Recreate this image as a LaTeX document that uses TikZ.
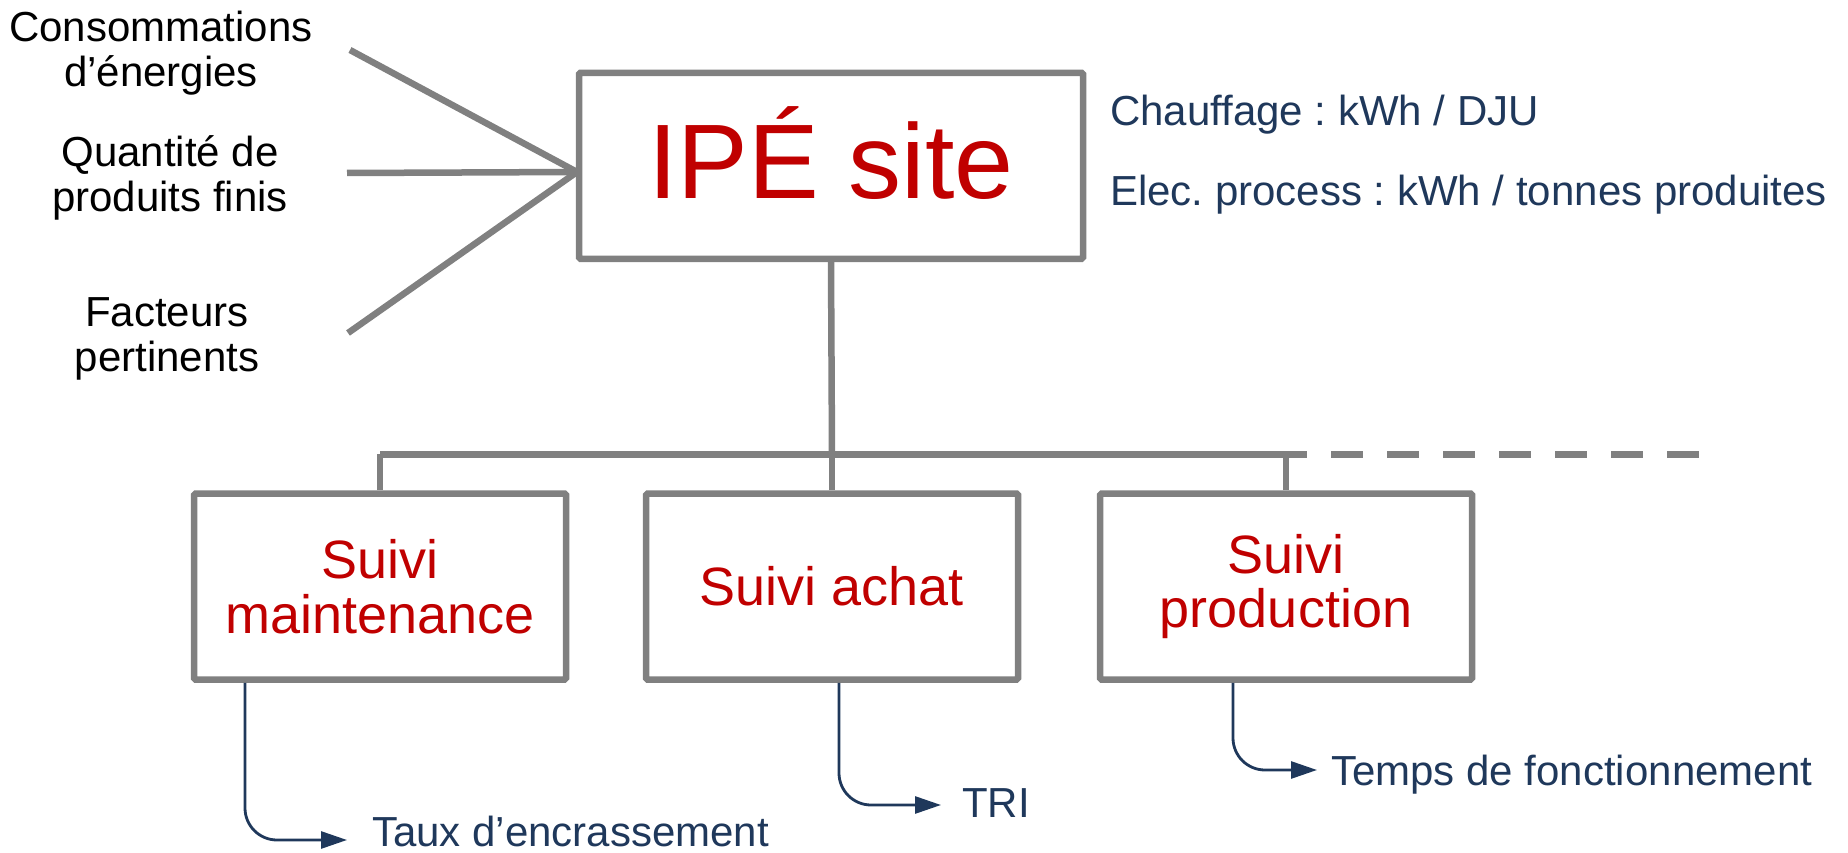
\documentclass[tikz,border=0pt]{standalone}
\usepackage{fontspec}
\setmainfont{Liberation Sans}
\usetikzlibrary{arrows.meta}
\definecolor{lgray}{HTML}{808080}
\definecolor{dred}{HTML}{C00000}
\definecolor{navy}{HTML}{1F385B}
\frenchspacing
\begin{document}
\begin{tikzpicture}[x=1pt,y=-1pt,
  gline/.style={draw=lgray,line width=6.5pt},
  bigbox/.style={draw=lgray,line width=6.5pt,rounded corners=1.5pt,minimum width=504pt,minimum height=186pt,inner sep=0pt,text=dred,font=\fontsize{106}{110}\selectfont,text height=78pt,text depth=12pt},
  subbox/.style={draw=lgray,line width=6.5pt,rounded corners=1.5pt,minimum width=372pt,minimum height=186pt,inner sep=0pt,text=dred,align=center,font=\fontsize{54}{54.7}\selectfont},
  intext/.style={align=center,inner sep=0pt,font=\fontsize{42}{45}\selectfont},
  navytext/.style={anchor=base west,inner sep=0pt,text=navy,font=\fontsize{42}{45}\selectfont},
  narrow/.style={draw=navy,line width=2.8pt,rounded corners=32pt,-{Triangle[length=26pt,width=17pt]}}
]
\useasboundingbox (0,0) rectangle (1848,853);

% input texts
\node[intext] (in1) at (161,53) {Consommations\\d’énergies};
\node[intext] (in2) at (170,178) {Quantité de\\produits finis};
\node[intext] (in3) at (167,338.5) {Facteurs\\pertinents};

% main box
\node[bigbox] (ipe) at (831,165.8) {IPÉ site};

% input lines
\coordinate (s1) at (350,50);
\coordinate (s2) at (347,173);
\coordinate (s3) at (348,333);
\coordinate (conv) at (577,172);
\draw[gline] (s1) -- (conv);
\draw[gline] (s2) -- (conv);
\draw[gline] (s3) -- (conv);

% right texts
\node[navytext] (r1) at (1110,126) {Chauffage : kWh / DJU};
\node[navytext] (r2) at (1110,206) {Elec. process : kWh / tonnes produites};

% sub boxes
\node[subbox] (b1) at (380,586.6) {Suivi\\maintenance};
\node[subbox] (b2) at (832,586.6) {Suivi achat};
\node[subbox] (b3) at (1286,586.6) {Suivi\\production};

% bus
\coordinate (busL) at (380,454.3);
\coordinate (busM) at (832,454.3);
\coordinate (busR) at (1286,454.3);
\coordinate (dashS) at (1275,454.3);
\coordinate (dashE) at (1699,454.3);
\draw[gline] (ipe.south) -- (busM);
\draw[gline] (busL) -- (busR);
\draw[gline] (b1.north) -- (busL);
\draw[gline] (b2.north) -- (busM);
\draw[gline] (b3.north) -- (busR);
\draw[gline,dash pattern=on 32pt off 24pt] (dashS) -- (dashE);

% bottom arrows
\node[navytext] (t1) at (372,846) {Taux d’encrassement};
\node[navytext] (t2) at (962,817) {TRI};
\node[navytext] (t3) at (1331,785) {Temps de fonctionnement};
\coordinate (e1) at (347,840);
\coordinate (e2) at (941,805);
\coordinate (e3) at (1317,770);
\draw[narrow] ([xshift=-135pt]b1.south) |- (e1);
\draw[narrow] ([xshift=7pt]b2.south) |- (e2);
\draw[narrow] ([xshift=-53pt]b3.south) |- (e3);
\end{tikzpicture}
\end{document}
